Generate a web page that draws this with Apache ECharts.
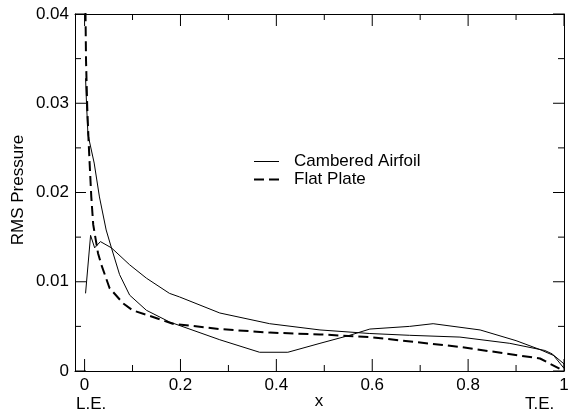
<!DOCTYPE html>
<html>
<head>
<meta charset="utf-8">
<script src="https://cdn.jsdelivr.net/npm/echarts@6/dist/echarts.min.js"></script>
<style>
html,body{margin:0;padding:0;background:#fff;}
#chart{width:574px;height:415px;}
</style>
</head>
<body>
<div id="chart"></div>
<script>
// ---- data ----
const seriesNames = ['Cambered Airfoil', 'Flat Plate'];

// Cambered airfoil: first branch (starts low at L.E., runs to T.E.)
const camberAX = [0.002, 0.0125, 0.021, 0.033, 0.056, 0.094, 0.129, 0.177, 0.198, 0.282, 0.386, 0.491, 0.595, 0.678, 0.783, 0.887, 0.96, 0.976, 1.0];
const camberAY = [0.0087, 0.0152, 0.0138, 0.0145, 0.0138, 0.0119, 0.0104, 0.0087, 0.0083, 0.0065, 0.0053, 0.0046, 0.0042, 0.0040, 0.0038, 0.0031, 0.0023, 0.0019, 0.0003];
// Cambered airfoil: second branch (from T.E. back to the L.E. peak)
const camberBX = [1.0, 0.98, 0.95, 0.9, 0.825, 0.727, 0.678, 0.595, 0.553, 0.491, 0.424, 0.365, 0.282, 0.177, 0.129, 0.094, 0.073, 0.056, 0.045, 0.031, 0.020, 0.007, 0.004, 0.002];
const camberBY = [0.0008, 0.0017, 0.0024, 0.0034, 0.0046, 0.0053, 0.0050, 0.0047, 0.0040, 0.0031, 0.0021, 0.0021, 0.0035, 0.0055, 0.0068, 0.0085, 0.0108, 0.0138, 0.0158, 0.0195, 0.0233, 0.0265, 0.0300, 0.0328];

// Flat plate
const flatX = [0.0015, 0.003, 0.0055, 0.008, 0.0105, 0.014, 0.018, 0.028, 0.035, 0.052, 0.080, 0.10, 0.129, 0.184, 0.282, 0.386, 0.491, 0.595, 0.783, 0.95, 1.0];
const flatY = [0.042, 0.0348, 0.0296, 0.0262, 0.0233, 0.0195, 0.0164, 0.0132, 0.0119, 0.0093, 0.0076, 0.0068, 0.0063, 0.0053, 0.0047, 0.0043, 0.0041, 0.0038, 0.0027, 0.0014, 0.0];

// axis ticks and labels
const xMajorTicks = [0, 0.2, 0.4, 0.6, 0.8, 1];
const xMinorTicks = [0.1, 0.3, 0.5, 0.7, 0.9];
const yMajorTicks = [0, 0.01, 0.02, 0.03, 0.04];
const yMinorTicks = [0.005, 0.015, 0.025, 0.035];
const xTickLabels = ['0', '0.2', '0.4', '0.6', '0.8', '1'];
const yTickLabels = ['0', '0.01', '0.02', '0.03', '0.04'];
const xEndLabels = ['L.E.', 'T.E.'];
const xTitle = 'x';
const yTitle = 'RMS Pressure';

// ---- layout ----
const W = 574, H = 415;
const GRID = {left: 75, right: 10, top: 14, bottom: 44};
const X_MIN = -0.02, X_MAX = 1;
const Y_MIN = 0, Y_MAX = 0.04;
const MAJOR_LEN_X = 12, MAJOR_LEN_Y = 11, MINOR_LEN = 6;
const pxPerX = (W - GRID.left - GRID.right) / (X_MAX - X_MIN);
const pxPerY = (H - GRID.top - GRID.bottom) / (Y_MAX - Y_MIN);

// ---- build ----
const zip = (xs, ys) => xs.map((x, i) => [x, ys[i]]);
const camberData = zip(camberAX, camberAY).concat(zip(camberBX, camberBY));
const flatData = zip(flatX, flatY);

const GAP = ['-', '-'];
// inward ticks on bottom/top (x) and left/right (y), drawn through the axes' scales
function xTickSegs(values, lenPx) {
  const d = lenPx / pxPerY;
  const out = [];
  values.forEach(v => {
    out.push([v, Y_MIN], [v, Y_MIN + d], GAP);
    out.push([v, Y_MAX], [v, Y_MAX - d], GAP);
  });
  return out;
}
function yTickSegs(values, lenPx) {
  const d = lenPx / pxPerX;
  const out = [];
  values.forEach(v => {
    out.push([X_MIN, v], [X_MIN + d, v], GAP);
    out.push([X_MAX, v], [X_MAX - d, v], GAP);
  });
  return out;
}
const tickSegs = []
  .concat(xTickSegs(xMajorTicks, MAJOR_LEN_X))
  .concat(xTickSegs(xMinorTicks, MINOR_LEN))
  .concat(yTickSegs(yMajorTicks, MAJOR_LEN_Y))
  .concat(yTickSegs(yMinorTicks, MINOR_LEN));

const FONT = '"Liberation Sans", Arial, Helvetica, sans-serif';
const FS = 17;
const textFont = FS + 'px ' + FONT;

function xLabel(v) {
  const i = xMajorTicks.findIndex(t => Math.abs(t - v) < 1e-6);
  return i >= 0 ? xTickLabels[i] : '';
}
function yLabel(v) {
  const i = yMajorTicks.findIndex(t => Math.abs(t - v) < 1e-9);
  return i >= 0 ? yTickLabels[i] : '';
}

const axisLine = {show: true, onZero: false, lineStyle: {color: '#000', width: 1}};
const chart = echarts.init(document.getElementById('chart'), null, {renderer: 'canvas'});
chart.setOption({
  animation: false,
  grid: {left: GRID.left, right: GRID.right, top: GRID.top, bottom: GRID.bottom, containLabel: false},
  xAxis: [
    {
      type: 'value', position: 'bottom', min: X_MIN, max: X_MAX,
      axisLine: axisLine, axisTick: {show: false},
      axisLabel: {show: true, customValues: xMajorTicks, margin: 6, color: '#000', fontFamily: FONT, fontSize: FS, formatter: xLabel},
      splitLine: {show: false}, minorTick: {show: false}, minorSplitLine: {show: false}
    },
    {
      type: 'value', position: 'top', min: X_MIN, max: X_MAX,
      axisLine: axisLine, axisTick: {show: false}, axisLabel: {show: false},
      splitLine: {show: false}, minorTick: {show: false}, minorSplitLine: {show: false}
    }
  ],
  yAxis: [
    {
      type: 'value', position: 'left', min: Y_MIN, max: Y_MAX, interval: 0.01,
      axisLine: axisLine, axisTick: {show: false}, minorTick: {show: false},
      axisLabel: {show: true, margin: 6, color: '#000', fontFamily: FONT, fontSize: FS, formatter: yLabel},
      splitLine: {show: false}, minorSplitLine: {show: false}
    },
    {
      type: 'value', position: 'right', min: Y_MIN, max: Y_MAX, interval: 0.01,
      axisLine: axisLine, axisTick: {show: false}, minorTick: {show: false}, axisLabel: {show: false},
      splitLine: {show: false}, minorSplitLine: {show: false}
    }
  ],
  legend: {
    orient: 'vertical', left: 248, top: 148,
    itemWidth: 25, itemHeight: 10, itemGap: 1,
    itemStyle: {opacity: 0},
    textStyle: {color: '#000', fontFamily: FONT, fontSize: FS, lineHeight: 17, padding: [0, 0, 0, 10]},
    data: [
      {name: seriesNames[0], lineStyle: {color: '#000', width: 1, type: 'solid'}},
      {name: seriesNames[1], lineStyle: {color: '#000', width: 2, type: [10, 5]}}
    ]
  },
  graphic: [
    {type: 'text', left: 76, top: 396, style: {text: xEndLabels[0], fill: '#000', font: textFont}},
    {type: 'text', left: 525, top: 396, style: {text: xEndLabels[1], fill: '#000', font: textFont}},
    {type: 'text', x: 319, y: 401, style: {text: xTitle, fill: '#000', font: textFont, align: 'center', verticalAlign: 'middle'}},
    {type: 'text', x: 18, y: 190, rotation: Math.PI / 2, style: {text: yTitle, fill: '#000', font: textFont, align: 'center', verticalAlign: 'middle'}}
  ],
  series: [
    {
      name: seriesNames[0], type: 'line', xAxisIndex: 0, yAxisIndex: 0,
      data: camberData, showSymbol: false, symbol: 'circle', smooth: false,
      lineStyle: {color: '#000', width: 1, type: 'solid'}, itemStyle: {color: '#000'}
    },
    {
      name: seriesNames[1], type: 'line', xAxisIndex: 0, yAxisIndex: 0,
      data: flatData, showSymbol: false, symbol: 'circle', smooth: false,
      lineStyle: {color: '#000', width: 2, type: [10, 5]}, itemStyle: {color: '#000'}
    },
    {
      name: 'axis ticks', type: 'line', xAxisIndex: 0, yAxisIndex: 0,
      data: tickSegs, showSymbol: false, symbol: 'none', connectNulls: false,
      clip: false, silent: true, z: 3,
      lineStyle: {color: '#000', width: 1, type: 'solid'}
    }
  ]
});
</script>
</body>
</html>
